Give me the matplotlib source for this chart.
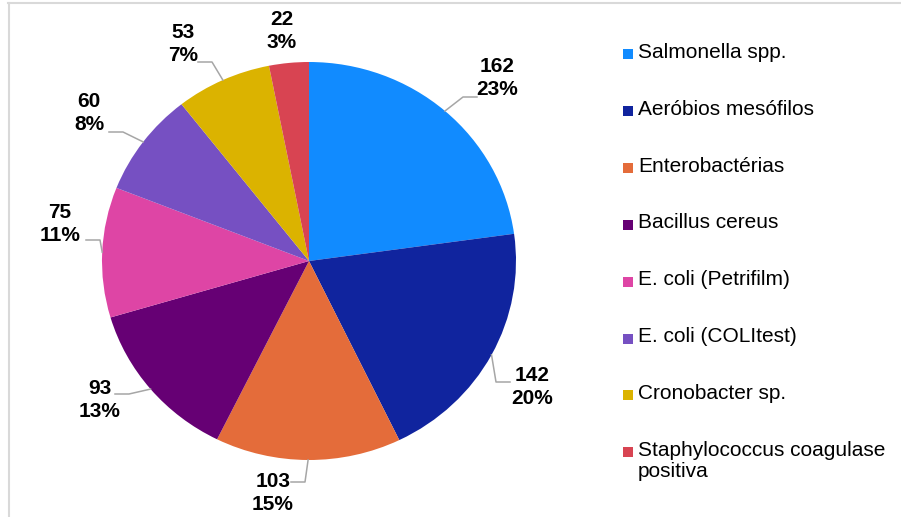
import matplotlib
matplotlib.use("Agg")
import matplotlib.pyplot as plt
import numpy as np
from matplotlib.lines import Line2D
from matplotlib.patches import Rectangle

plt.rcParams["font.family"] = ["Liberation Sans", "DejaVu Sans"]

# dados do gráfico
categories = [
    "Salmonella spp.",
    "Aeróbios mesófilos",
    "Enterobactérias",
    "Bacillus cereus",
    "E. coli (Petrifilm)",
    "E. coli (COLItest)",
    "Cronobacter sp.",
    "Staphylococcus coagulase\npositiva",
]
values = [162, 142, 103, 93, 75, 60, 53, 22]
colors = ["#118BFF", "#10249E", "#E46C3A", "#660074",
          "#DE45A5", "#7650C2", "#DBB300", "#D84452"]

# posições dos rótulos (pixels) e fim das linhas de chamada
label_pos_px = [(497, 78), (532, 387), (273, 493), (100, 400),
                (60, 224), (89, 113), (183, 44), (282, 31)]
leader_end_px = [(477, 97), (510, 382), (291, 482), (115, 394),
                 (86, 240), (109, 132), (198, 62), None]

W, H = 901, 517
cx, cy, rx, ry = 309, 261, 207, 199

fig = plt.figure(figsize=(W / 100, H / 100), dpi=100)
ax = fig.add_axes([(cx - rx) / W, (H - cy - ry) / H, 2 * rx / W, 2 * ry / H])

wedges, _ = ax.pie(values, colors=colors, startangle=90, counterclock=False,
                   radius=1, wedgeprops=dict(linewidth=0))
ax.set_aspect("auto")
ax.set_xlim(-1, 1)
ax.set_ylim(-1, 1)


def to_data(px, py):
    return (px - cx) / rx, (cy - py) / ry


total = sum(values)
for w, v, lp, le in zip(wedges, values, label_pos_px, leader_end_px):
    pct = round(100 * v / total)
    tx, ty = to_data(*lp)
    ax.text(tx, ty, f"{v}\n{pct}%", ha="center", va="center",
            fontsize=15, fontweight="bold", linespacing=1.25, clip_on=False)
    if le is None:
        continue
    # linha de chamada: borda da fatia -> cotovelo -> rótulo
    ang = np.deg2rad((w.theta1 + w.theta2) / 2)
    px0, py0 = np.cos(ang), np.sin(ang)
    ex, ey = to_data(*le)
    step = 14 if le[0] < cx else -14
    bx, by = to_data(le[0] + step, le[1])
    ax.add_line(Line2D([px0, bx, ex], [py0, by, ey], color="#A6A6A6",
                       lw=1.1, clip_on=False))

# legenda
y0, dy = 54, 56.9
for i, (name, c) in enumerate(zip(categories, colors)):
    yc = y0 + i * dy
    fig.add_artist(Rectangle((623 / W, (H - yc - 5) / H), 10 / W, 10 / H,
                             transform=fig.transFigure, color=c, lw=0))
    fig.text(638 / W, (H - yc + 11.3) / H, name, ha="left", va="top",
             fontsize=15, linespacing=1.15)

# moldura
fig.add_artist(Line2D([8 / W, 1], [1 - 2.6 / H, 1 - 2.6 / H],
                      transform=fig.transFigure, color="#D9D9D9", lw=1.5))
fig.add_artist(Line2D([8.5 / W, 8.5 / W], [0, 1 - 2.6 / H],
                      transform=fig.transFigure, color="#D9D9D9", lw=1.5))

fig.savefig("out.png", dpi=100)
